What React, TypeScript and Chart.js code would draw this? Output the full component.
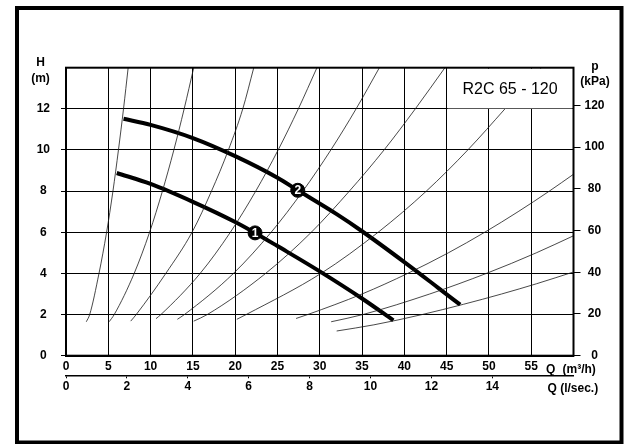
import { useEffect, useRef } from 'react';
import { Chart, registerables } from 'chart.js';

Chart.register(...registerables);

// Pump curves (Q in m³/h, H in m)
const pump1Q = [6.0, 10, 15, 20, 22.35, 25, 30, 35, 38.7];
const pump1H = [8.88, 8.35, 7.48, 6.5, 5.97, 5.33, 4.1, 2.78, 1.72];
const pump2Q = [6.8, 10, 15, 20, 25, 27.4, 32, 35, 40, 44, 46.6];
const pump2H = [11.52, 11.22, 10.58, 9.7, 8.65, 8.04, 6.88, 6.05, 4.55, 3.3, 2.48];

// Curve number markers
const markerQ = [22.35, 27.4];
const markerH = [5.97, 8.04];
const markerLabels = ['1', '2'];

// System resistance curves [Q, H]
const sysA = [[2.4, 1.65], [2.8, 2], [3.9, 4], [4.8, 6], [5.55, 8], [6.2, 10], [6.8, 12], [7.35, 14]];
const sysB = [[5.1, 1.65], [5.7, 2], [8.06, 4], [9.88, 6], [11.4, 8], [12.75, 10], [13.97, 12], [15.1, 14]];
const sysC = [[7.65, 1.68], [8.3, 2], [11.8, 4], [14.9, 6], [17.2, 8], [19.2, 10], [20.9, 12], [22.2, 14]];
const sysD = [[10.64, 1.8], [11.22, 2], [15.86, 4], [19.43, 6], [22.43, 8], [25.08, 10], [27.47, 12], [29.67, 14]];
const sysE = [[13.17, 1.77], [14.0, 2], [19.8, 4], [24.25, 6], [28.0, 8], [31.31, 10], [34.3, 12], [37.05, 14]];
const sysF = [[15.1, 1.68], [16.7, 2], [23.6, 4], [29.0, 6], [33.5, 8], [37.6, 10], [41.3, 12], [44.8, 14]];
const sysG = [[20.2, 1.77], [21.3, 2], [30.15, 4], [36.9, 6], [42.6, 8], [47.5, 10], [51.9, 12], [56.2, 14]];
const sysH = [[27.2, 1.81], [28.57, 2], [35.0, 3], [40.4, 4], [45.2, 5], [49.5, 6], [53.45, 7], [57.14, 8], [60, 8.82]];
const sysI = [[31.35, 1.65], [35.1, 2], [43.0, 3], [49.7, 4], [55.6, 5], [60, 5.83]];
const sysJ = [[32.0, 1.2], [36.4, 1.5], [42.1, 2], [47.0, 2.5], [51.5, 3], [55.65, 3.5], [60, 4.07]];
const systemCurves = [sysA, sysB, sysC, sysD, sysE, sysF, sysG, sysH, sysI, sysJ];

// Axis ranges / ticks
const qMax = 60;
const hMax = 14;
const pMax = 138;
const m3hPerLs = 3.6;
const titleText = 'R2C 65 - 120';

const FONT = '"Liberation Sans", Arial, Helvetica, sans-serif';

export default function App() {
  const ref = useRef<HTMLCanvasElement>(null);

  useEffect(() => {
    if (!ref.current) return;
    const tickFont = { family: FONT, size: 12, weight: 'bold' as const };

    const thinSets = systemCurves.map((c) => ({
      data: c.map(([x, y]) => ({ x, y })),
      showLine: true,
      borderColor: '#1a1a1a',
      borderWidth: 0.8,
      pointRadius: 0,
      cubicInterpolationMode: 'monotone' as const,
    }));

    const deco = {
      id: 'deco',
      afterDraw(chart: any) {
        const ctx = chart.ctx as CanvasRenderingContext2D;
        const a = chart.chartArea;
        const xs = chart.scales.x;
        const ys = chart.scales.y;
        ctx.save();
        // title box
        const bl = xs.getPixelForValue(45);
        const bb = ys.getPixelForValue(12);
        ctx.fillStyle = '#fff';
        ctx.fillRect(bl + 1, a.top + 1, a.right - bl - 2, bb - a.top - 1.5);
        // frame
        ctx.strokeStyle = '#000';
        ctx.lineWidth = 2;
        ctx.strokeRect(a.left, a.top, a.right - a.left, a.bottom - a.top);
        // outer border
        ctx.lineWidth = 4;
        ctx.strokeRect(17, 8, 604.5, 434.5);
        // title
        ctx.fillStyle = '#000';
        ctx.font = `16px ${FONT}`;
        ctx.textAlign = 'center';
        ctx.textBaseline = 'alphabetic';
        ctx.fillText(titleText, (bl + a.right) / 2, 94);
        // axis titles
        ctx.font = `bold 12px ${FONT}`;
        ctx.fillText('H', 40.5, 66);
        ctx.fillText('(m)', 40.5, 82);
        ctx.fillText('p', 595, 69.5);
        ctx.fillText('(kPa)', 595, 85);
        ctx.textAlign = 'left';
        ctx.fillText('Q', 546, 373);
        ctx.fillText('(m³/h)', 562.5, 373);
        ctx.fillText('Q (l/sec.)', 547.5, 392);
        // markers labels
        const meta = chart.getDatasetMeta(chart.data.datasets.length - 1);
        ctx.fillStyle = '#fff';
        ctx.textAlign = 'center';
        ctx.textBaseline = 'middle';
        meta.data.forEach((pt: any, i: number) => {
          ctx.fillText(markerLabels[i], pt.x, pt.y + 0.5);
        });
        ctx.restore();
      },
    };

    const chart = new Chart(ref.current, {
      type: 'scatter',
      data: {
        datasets: [
          ...thinSets,
          {
            data: pump1Q.map((q, i) => ({ x: q, y: pump1H[i] })),
            showLine: true,
            borderColor: '#000',
            borderWidth: 4,
            pointRadius: 0,
            cubicInterpolationMode: 'monotone',
          },
          {
            data: pump2Q.map((q, i) => ({ x: q, y: pump2H[i] })),
            showLine: true,
            borderColor: '#000',
            borderWidth: 4,
            pointRadius: 0,
            cubicInterpolationMode: 'monotone',
          },
          {
            data: markerQ.map((q, i) => ({ x: q, y: markerH[i] })),
            showLine: false,
            pointRadius: 7,
            pointBackgroundColor: '#000',
            pointBorderColor: '#000',
            pointBorderWidth: 1,
          },
        ] as any,
      },
      options: {
        animation: false,
        responsive: false,
        devicePixelRatio: 1,
        events: [],
        layout: { padding: { top: 67.7, left: 0, right: 0, bottom: 0 } },
        plugins: { legend: { display: false }, tooltip: { enabled: false } },
        scales: {
          x: {
            type: 'linear',
            position: 'bottom',
            weight: 0,
            min: 0,
            max: qMax,
            ticks: { stepSize: 5, font: tickFont, color: '#000', padding: 4, maxRotation: 0, autoSkip: false },
            grid: { color: '#000', lineWidth: 1, drawTicks: false },
            border: { display: true, color: '#000', width: 2 },
            afterBuildTicks: (s: any) => {
              s.ticks = s.ticks.filter((t: any) => t.value <= 55);
            },
            afterFit: (s: any) => {
              s.height = 19.6;
            },
          },
          x2: {
            type: 'linear',
            position: 'bottom',
            weight: 1,
            min: 0,
            max: qMax / m3hPerLs,
            ticks: { stepSize: 2, font: tickFont, color: '#000', padding: 1.5, maxRotation: 0, autoSkip: false },
            grid: { drawOnChartArea: false, color: '#000', lineWidth: 1, tickLength: 3 },
            border: { display: true, color: '#000', width: 1.5 },
            afterBuildTicks: (s: any) => {
              s.ticks = s.ticks.filter((t: any) => t.value <= 14 && Math.abs(t.value % 2) < 1e-6);
            },
            afterFit: (s: any) => {
              s.height = 68.7;
            },
          },
          y: {
            type: 'linear',
            position: 'left',
            min: 0,
            max: hMax,
            ticks: { stepSize: 2, font: tickFont, color: '#000', padding: 11, crossAlign: 'center' },
            grid: { color: '#000', lineWidth: 1, tickLength: 5 },
            border: { display: true, color: '#000', width: 2 },
            afterBuildTicks: (s: any) => {
              s.ticks = s.ticks.filter((t: any) => t.value <= 12);
            },
            afterFit: (s: any) => {
              s.width = 66;
            },
          },
          y2: {
            type: 'linear',
            position: 'right',
            min: 0,
            max: pMax,
            ticks: { stepSize: 20, font: tickFont, color: '#000', padding: 4, crossAlign: 'center' },
            grid: { drawOnChartArea: false, color: '#000', lineWidth: 1, tickLength: 7 },
            border: { display: false },
            afterBuildTicks: (s: any) => {
              s.ticks = s.ticks.filter((t: any) => t.value <= 120 && t.value % 20 === 0);
            },
            afterFit: (s: any) => {
              s.width = 51.5;
            },
          },
        },
      } as any,
      plugins: [deco],
    });

    return () => chart.destroy();
  }, []);

  return (
    <canvas
      ref={ref}
      width={625}
      height={444}
      style={{ position: 'absolute', left: 0, top: 0, width: 625, height: 444 }}
    />
  );
}
